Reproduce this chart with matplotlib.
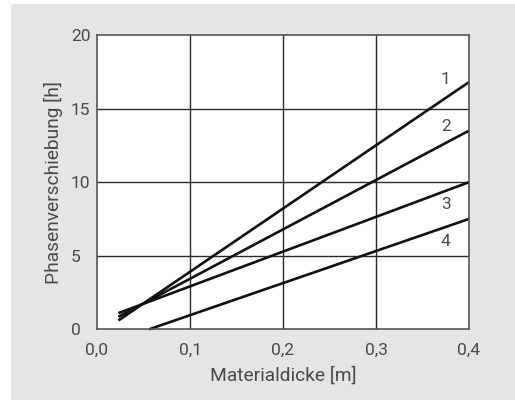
import matplotlib
matplotlib.use("Agg")
import matplotlib.pyplot as plt
from matplotlib.patches import Rectangle

# Phase shift vs. material thickness for four materials
thickness_start = [0.023, 0.023, 0.023, 0.056]
thickness_end = [0.4, 0.4, 0.4, 0.4]
shift_start = [0.6, 0.85, 1.1, 0.0]
shift_end = [16.8, 13.5, 10.0, 7.5]
curve_labels = ["1", "2", "3", "4"]
label_x = [0.375, 0.375, 0.375, 0.375]
label_y = [17.0, 13.75, 8.45, 5.95]

x_ticks = [0.0, 0.1, 0.2, 0.3, 0.4]
x_tick_labels = ["0,0", "0,1", "0,2", "0,3", "0,4"]
y_ticks = [0, 5, 10, 15, 20]
y_tick_labels = ["0", "5", "10", "15", "20"]

plt.rcParams["font.family"] = ["Roboto", "DejaVu Sans"]
text_color = "#4a4a4a"
grid_color = "#2a2a2a"
fs = 12.5
label_fs = 13.8

fig = plt.figure(figsize=(5.15, 4.0), dpi=100, facecolor="white")
fig.patches.append(Rectangle((11 / 515, 0), 1 - 11 / 515, 396 / 400,
                             transform=fig.transFigure, facecolor="#e4e5e7",
                             edgecolor="none", zorder=-10))

ax = fig.add_axes([97 / 515, 70.7 / 400, 372 / 515, 294.3 / 400])
ax.set_facecolor("white")
ax.set_xlim(0, 0.4)
ax.set_ylim(0, 20)

for xv in x_ticks[1:-1]:
    ax.axvline(xv, color=grid_color, lw=1.0, zorder=1)
for yv in y_ticks[1:-1]:
    ax.axhline(yv, color=grid_color, lw=1.0, zorder=1)

for x0, x1, y0, y1 in zip(thickness_start, thickness_end, shift_start, shift_end):
    ax.plot([x0, x1], [y0, y1], color="#111111", lw=1.9,
            solid_capstyle="butt", zorder=3, clip_on=False)

for lab, lx, ly in zip(curve_labels, label_x, label_y):
    ax.text(lx, ly, lab, ha="center", va="center", fontsize=fs,
            color=text_color, zorder=4)

for s in ax.spines.values():
    s.set_color("#555555")
    s.set_linewidth(1.2)
    s.set_zorder(5)

ax.set_xticks(x_ticks)
ax.set_xticklabels(x_tick_labels)
ax.set_yticks(y_ticks)
ax.set_yticklabels(y_tick_labels)
ax.tick_params(axis="both", length=0, labelsize=fs, labelcolor=text_color)
ax.tick_params(axis="x", pad=10)
ax.tick_params(axis="y", pad=18.7)
for t in ax.get_yticklabels():
    t.set_horizontalalignment("left")

ax.set_xlabel("Materialdicke [m]", fontsize=label_fs, color=text_color,
              labelpad=6)
ax.set_ylabel("Phasenverschiebung [h]", fontsize=label_fs, color=text_color,
              labelpad=6)

fig.savefig("out.png", dpi=100, facecolor="white")
